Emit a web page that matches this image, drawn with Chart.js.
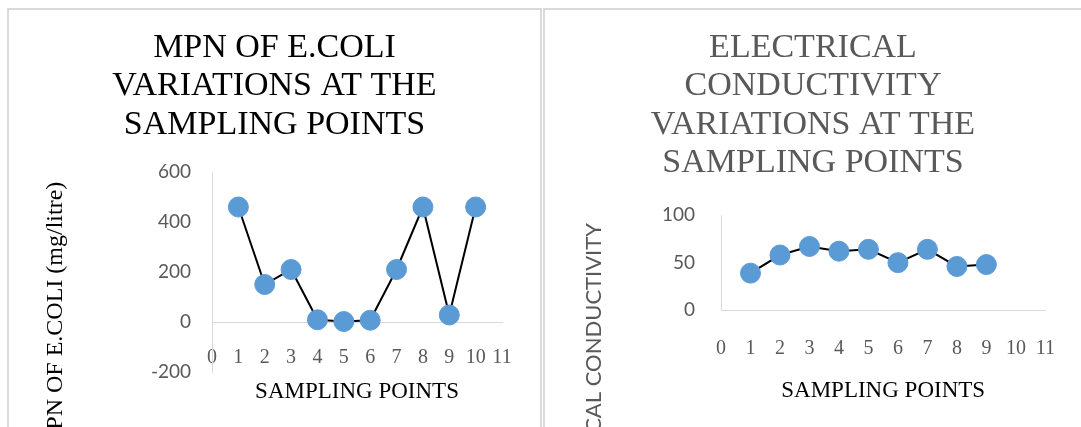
<!DOCTYPE html>
<html>
<head>
<meta charset="utf-8">
<script src="https://cdn.jsdelivr.net/npm/chart.js@4/dist/chart.umd.min.js"></script>
<style>
  html, body { margin: 0; padding: 0; background: #fff; }
  body { width: 1081px; height: 427px; overflow: hidden; position: relative; }
  .panel { position: absolute; border: 2px solid #d9d9d9; background: #fff; box-sizing: border-box; }
  #panelMpn { left: 7px; top: 8px; width: 535px; height: 520px; }
  #panelEc { left: 543px; top: 8px; width: 600px; height: 520px; }
  canvas { position: absolute; left: 0; top: 0; }
</style>
</head>
<body>
<div class="panel" id="panelMpn"><canvas id="mpnChart" width="531" height="480"></canvas></div>
<div class="panel" id="panelEc"><canvas id="ecChart" width="536" height="480"></canvas></div>
<script>
// Sampling point numbers and measured values
const mpnPoints = [1, 2, 3, 4, 5, 6, 7, 8, 9, 10];
const mpnValues = [460, 150, 210, 9, 2, 7, 210, 460, 28, 460];
const ecPoints = [1, 2, 3, 4, 5, 6, 7, 8, 9];
const ecValues = [39, 58, 67, 62, 64, 50, 64, 46, 48];

const mpnTitle = ['MPN OF E.COLI', 'VARIATIONS AT THE', 'SAMPLING POINTS'];
const ecTitle = ['ELECTRICAL', 'CONDUCTIVITY', 'VARIATIONS AT THE', 'SAMPLING POINTS'];
const xAxisTitle = 'SAMPLING POINTS';
const mpnAxisTitle = 'MPN OF E.COLI (mg/litre)';
const ecAxisTitle = 'ELECTRICAL CONDUCTIVITY';

const SERIF = "'Liberation Serif', 'Times New Roman', serif";
const SANS = "Lato, 'Open Sans', sans-serif";
const GREY = '#595959';
const MARKER = '#5b9bd5';

// Rotated value-axis caption, anchored at its upper end
const sideTitle = {
  id: 'sideTitle',
  afterDraw(chart, args, opts) {
    const ctx = chart.ctx;
    ctx.save();
    ctx.translate(opts.x, opts.y);
    ctx.rotate(-Math.PI / 2);
    ctx.font = opts.font;
    ctx.fillStyle = opts.color;
    ctx.textAlign = 'right';
    ctx.textBaseline = 'middle';
    ctx.fillText(opts.text, 0, 0);
    ctx.restore();
  }
};

function toXY(xs, ys) {
  return xs.map((x, i) => ({ x: x, y: ys[i] }));
}

function makeChart(canvasId, cfg) {
  return new Chart(document.getElementById(canvasId), {
    type: 'line',
    data: {
      datasets: [{
        data: toXY(cfg.xs, cfg.ys),
        borderColor: '#000',
        borderWidth: 2,
        tension: 0,
        pointRadius: 10,
        pointHoverRadius: 10,
        pointBackgroundColor: MARKER,
        pointBorderColor: MARKER,
        pointBorderWidth: 1
      }]
    },
    plugins: [sideTitle],
    options: {
      responsive: false,
      animation: false,
      devicePixelRatio: 1,
      layout: { padding: cfg.padding },
      plugins: {
        legend: { display: false },
        tooltip: { enabled: false },
        title: {
          display: true,
          text: cfg.title,
          color: cfg.titleColor,
          font: { family: SERIF, size: 34, weight: 'normal', lineHeight: 38.4 / 34 },
          padding: { top: 18.8, bottom: cfg.titleGap }
        },
        sideTitle: cfg.side
      },
      scales: {
        x: {
          type: 'linear',
          position: { y: 0 },
          min: 0,
          max: 11,
          grid: { display: false, drawTicks: false },
          border: { display: true, color: '#d9d9d9', width: 1 },
          ticks: {
            stepSize: 1,
            padding: cfg.xTickPad,
            color: GREY,
            font: { family: SERIF, size: 20, lineHeight: 1.2 }
          },
          title: {
            display: true,
            text: xAxisTitle,
            color: '#000',
            font: { family: SERIF, size: 23, lineHeight: 1.2 },
            padding: { top: 0, bottom: cfg.xTitlePad }
          },
          afterFit(scale) { scale.height = cfg.xHeight; }
        },
        y: {
          min: cfg.yMin,
          max: cfg.yMax,
          grid: { display: false, drawTicks: false },
          border: { display: true, color: '#d9d9d9', width: 1 },
          ticks: {
            stepSize: cfg.yStep,
            padding: cfg.yTickPad,
            color: GREY,
            font: { family: SANS, size: 19 }
          },
          afterFit(scale) { scale.width = cfg.yWidth; }
        }
      }
    }
  });
}

makeChart('mpnChart', {
  xs: mpnPoints, ys: mpnValues,
  title: mpnTitle, titleColor: '#000', titleGap: 28,
  yMin: -200, yMax: 600, yStep: 200, yTickPad: 21, yWidth: 165,
  xTickPad: 24, xTitlePad: 8, xHeight: 92,
  padding: { left: 38, right: 38, top: 0, bottom: 118 },
  side: { text: mpnAxisTitle, x: 46.8, y: 171.7, font: '24px ' + SERIF, color: '#000' }
});

makeChart('ecChart', {
  xs: ecPoints, ys: ecValues,
  title: ecTitle, titleColor: GREY, titleGap: 32.6,
  yMin: 0, yMax: 100, yStep: 50, yTickPad: 26, yWidth: 144,
  xTickPad: 26, xTitlePad: 10, xHeight: 104.3,
  padding: { left: 32, right: 32, top: 0, bottom: 179.7 },
  side: { text: ecAxisTitle, x: 49, y: 213, font: '22px ' + SANS, color: GREY }
});
</script>
</body>
</html>
